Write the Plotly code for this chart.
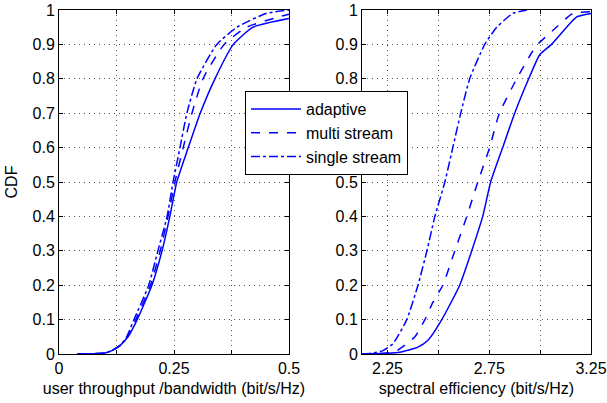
import plotly.graph_objects as go

# ---- data: left panel (user throughput / bandwidth) ----
l_adapt_x = [0.04, 0.1, 0.115, 0.133, 0.15, 0.17, 0.202, 0.224, 0.241, 0.256, 0.281, 0.307, 0.339, 0.379, 0.422, 0.5]
l_adapt_y = [0, 0.003, 0.01, 0.025, 0.05, 0.1, 0.2, 0.3, 0.4, 0.5, 0.6, 0.7, 0.8, 0.9, 0.95, 0.975]
l_multi_x = [0.04, 0.1, 0.115, 0.133, 0.149, 0.167, 0.199, 0.22, 0.237, 0.252, 0.27, 0.289, 0.313, 0.359, 0.408, 0.5]
l_multi_y = [0, 0.003, 0.01, 0.025, 0.05, 0.1, 0.2, 0.3, 0.4, 0.5, 0.6, 0.7, 0.8, 0.9, 0.95, 0.988]
l_single_x = [0.04, 0.1, 0.115, 0.133, 0.147, 0.163, 0.195, 0.215, 0.235, 0.248, 0.263, 0.278, 0.3, 0.343, 0.387, 0.45, 0.5]
l_single_y = [0, 0.003, 0.01, 0.025, 0.05, 0.1, 0.2, 0.3, 0.4, 0.5, 0.6, 0.7, 0.8, 0.9, 0.95, 0.99, 1.0]

# ---- data: right panel (spectral efficiency) ----
r_adapt_x = [2.125, 2.25, 2.31, 2.40, 2.449, 2.517, 2.605, 2.664, 2.718, 2.757, 2.816, 2.875, 2.944, 2.998, 3.056, 3.13, 3.18, 3.25]
r_adapt_y = [0, 0.002, 0.005, 0.02, 0.04, 0.1, 0.2, 0.3, 0.4, 0.5, 0.6, 0.7, 0.8, 0.87, 0.9, 0.95, 0.98, 0.99]
r_multi_x = [2.125, 2.25, 2.297, 2.385, 2.434, 2.473, 2.522, 2.581, 2.64, 2.694, 2.752, 2.80, 2.885, 2.963, 2.988, 3.08, 3.16, 3.25]
r_multi_y = [0, 0.003, 0.01, 0.05, 0.1, 0.15, 0.2, 0.3, 0.4, 0.5, 0.6, 0.7, 0.8, 0.88, 0.9, 0.95, 0.99, 0.995]
r_single_x = [2.125, 2.18, 2.228, 2.277, 2.345, 2.40, 2.444, 2.483, 2.532, 2.571, 2.61, 2.654, 2.728, 2.787, 2.866, 2.935]
r_single_y = [0, 0.003, 0.01, 0.03, 0.1, 0.2, 0.3, 0.4, 0.5, 0.6, 0.7, 0.8, 0.9, 0.95, 0.99, 1.0]

series_names = ["adaptive", "multi stream", "single stream"]
y_ticks = [0, 0.1, 0.2, 0.3, 0.4, 0.5, 0.6, 0.7, 0.8, 0.9, 1]
y_ticktext = ["0", "0.1", "0.2", "0.3", "0.4", "0.5", "0.6", "0.7", "0.8", "0.9", "1"]
l_xticks = [0, 0.125, 0.25, 0.375, 0.5]
l_xticktext = ["0", "", "0.25", "", "0.5"]
r_xticks = [2.25, 2.5, 2.75, 3.0, 3.25]
r_xticktext = ["2.25", "", "2.75", "", "3.25"]

BLUE = "#0000ff"
FONT = "Liberation Sans, Arial, sans-serif"
FS = 16
dashes = ["solid", "dash", "dashdot"]

fig = go.Figure()
left = [(l_adapt_x, l_adapt_y), (l_multi_x, l_multi_y), (l_single_x, l_single_y)]
right = [(r_adapt_x, r_adapt_y), (r_multi_x, r_multi_y), (r_single_x, r_single_y)]
for i, (xs, ys) in enumerate(left):
    fig.add_trace(go.Scatter(x=xs, y=ys, mode="lines", name=series_names[i],
                             line=dict(color=BLUE, width=1.5, dash=dashes[i], shape="spline", smoothing=0.5),
                             xaxis="x", yaxis="y", showlegend=True))
for i, (xs, ys) in enumerate(right):
    fig.add_trace(go.Scatter(x=xs, y=ys, mode="lines", name=series_names[i],
                             line=dict(color=BLUE, width=1.5, dash=dashes[i], shape="spline", smoothing=0.5),
                             xaxis="x2", yaxis="y2", showlegend=False))

axis_common = dict(showline=True, linecolor="black", linewidth=1, mirror="ticks",
                   ticks="inside", ticklen=4, tickcolor="black", automargin=False,
                   showgrid=True, gridcolor="#555555", griddash="1px,4px", gridwidth=1,
                   zeroline=False, tickfont=dict(family=FONT, size=FS, color="black"))

fig.update_layout(
    width=607, height=403,
    margin=dict(l=0, r=0, t=0, b=0),
    paper_bgcolor="white", plot_bgcolor="white",
    font=dict(family=FONT, size=FS, color="black"),
    xaxis=dict(domain=[59/607, 289/607], range=[0, 0.5], tickvals=l_xticks, ticktext=l_xticktext,
               title=dict(text="user throughput /bandwidth (bit/s/Hz)", standoff=6,
                          font=dict(family=FONT, size=FS)), anchor="y", **axis_common),
    yaxis=dict(domain=[1-354/403, 1-10/403], range=[0, 1], tickvals=y_ticks, ticktext=y_ticktext,
               title=dict(text="CDF", standoff=10, font=dict(family=FONT, size=FS)), anchor="x", **axis_common),
    xaxis2=dict(domain=[362/607, 591/607], range=[2.125, 3.25], tickvals=r_xticks, ticktext=r_xticktext,
                title=dict(text="spectral efficiency (bit/s/Hz)", standoff=6,
                           font=dict(family=FONT, size=FS)), anchor="y2", **axis_common),
    yaxis2=dict(domain=[1-354/403, 1-10/403], range=[0, 1], tickvals=y_ticks, ticktext=y_ticktext,
                anchor="x2", **axis_common),
    legend=dict(x=245/607, y=1-91/403, xanchor="left", yanchor="top",
                bgcolor="white", bordercolor="black", borderwidth=1,
                font=dict(family=FONT, size=FS, color="black"),
                tracegroupgap=0, itemwidth=50),
    showlegend=True,
)

fig.write_html("out.html", config={"displayModeBar": False},
               post_script="document.body.style.margin='0';document.body.style.overflow='hidden';")
